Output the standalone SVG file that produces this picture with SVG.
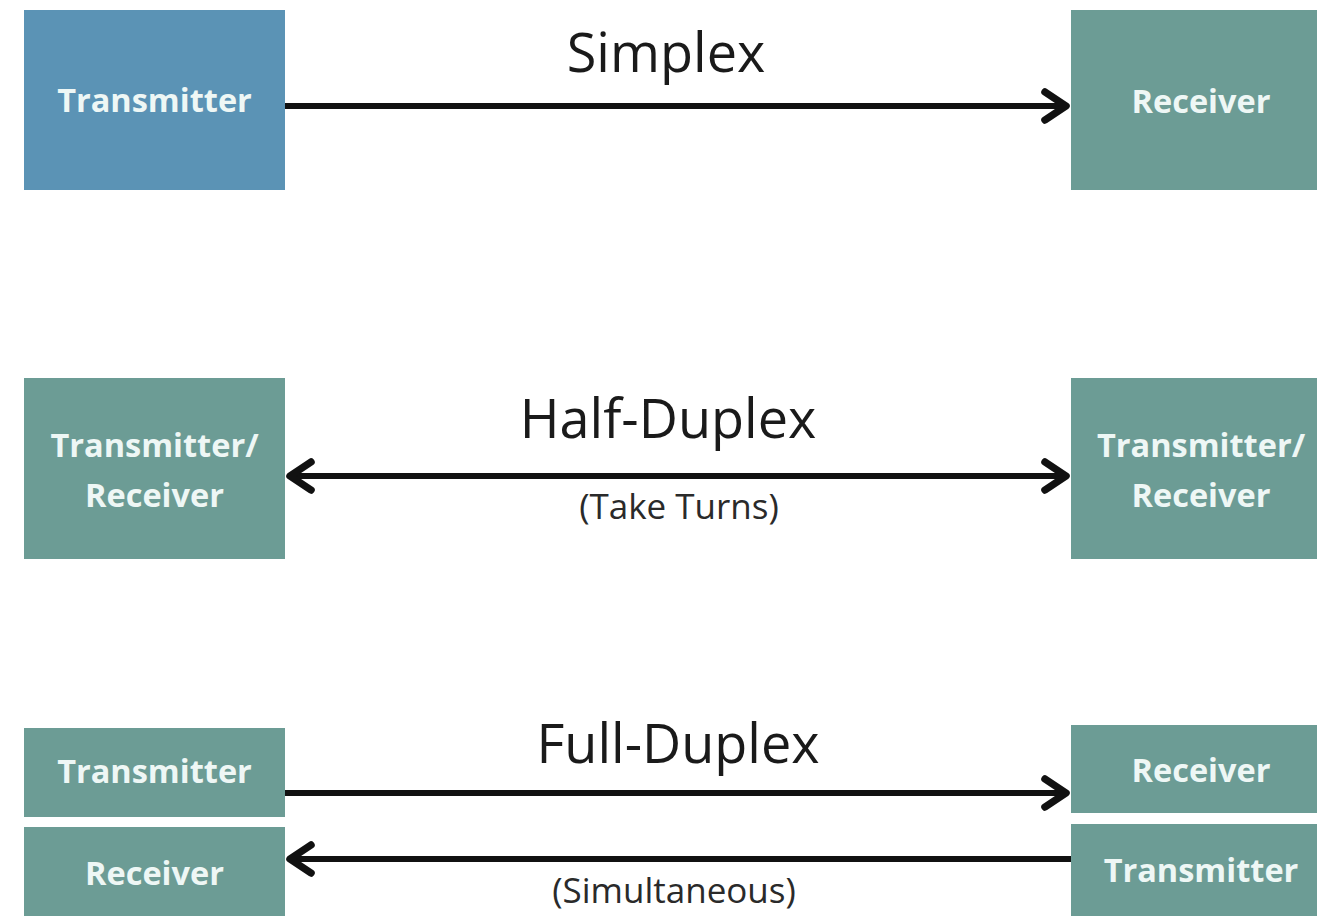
<svg xmlns="http://www.w3.org/2000/svg" width="1317" height="916" viewBox="0 0 1317 916">
  <style>
    .box-blue { fill: #5b93b5; }
    .box-teal { fill: #6c9c95; }
    .label { font-family: "Open Sans", "Noto Sans", "Liberation Sans", sans-serif; font-weight: 700; font-size: 32.5px; fill: #eef7f5; text-anchor: middle; }
    .title { font-family: "Open Sans", "Noto Sans", "Liberation Sans", sans-serif; font-weight: 400; font-size: 54px; fill: #1a1a1a; text-anchor: middle; }
    .note { font-family: "Open Sans", "Noto Sans", "Liberation Sans", sans-serif; font-weight: 400; font-size: 35px; fill: #2a2a2a; text-anchor: middle; }
    .wire { fill: none; stroke: #111; stroke-width: 6; }
  </style>
  <defs>
    <marker id="chev" markerUnits="userSpaceOnUse" markerWidth="40" markerHeight="40" viewBox="-30 -20 40 40" refX="0" refY="0" orient="auto-start-reverse" overflow="visible">
      <path d="M-23,-14 L-2,0 L-23,14" fill="none" stroke="#111" stroke-width="7.5" stroke-linecap="round" stroke-linejoin="round"/>
    </marker>
  </defs>

  <rect width="1317" height="916" fill="#ffffff"/>

  <!-- Simplex -->
  <g id="simplex-tx">
    <rect class="box-blue" x="24" y="10" width="261" height="180"/>
    <text class="label" x="154.5" y="112">Transmitter</text>
  </g>
  <g id="simplex-rx">
    <rect class="box-teal" x="1071" y="10" width="261" height="180"/>
    <text class="label" x="1201" y="113">Receiver</text>
  </g>
  <text class="title" x="666" y="72">Simplex</text>

  <!-- Half-Duplex -->
  <g id="half-left">
    <rect class="box-teal" x="24" y="378" width="261" height="181"/>
    <text class="label" x="154.5" y="457">Transmitter/</text>
    <text class="label" x="154.5" y="507">Receiver</text>
  </g>
  <g id="half-right">
    <rect class="box-teal" x="1071" y="378" width="261" height="181"/>
    <text class="label" x="1201" y="457">Transmitter/</text>
    <text class="label" x="1201" y="507">Receiver</text>
  </g>
  <text class="title" x="668" y="438">Half-Duplex</text>
  <text class="note" x="679" y="519">(Take Turns)</text>

  <!-- Full-Duplex -->
  <g id="full-left-tx">
    <rect class="box-teal" x="24" y="728" width="261" height="89"/>
    <text class="label" x="154.5" y="783">Transmitter</text>
  </g>
  <g id="full-left-rx">
    <rect class="box-teal" x="24" y="827" width="261" height="89"/>
    <text class="label" x="154.5" y="885">Receiver</text>
  </g>
  <g id="full-right-rx">
    <rect class="box-teal" x="1071" y="725" width="261" height="88"/>
    <text class="label" x="1201" y="782">Receiver</text>
  </g>
  <g id="full-right-tx">
    <rect class="box-teal" x="1071" y="824" width="261" height="92"/>
    <text class="label" x="1201" y="882">Transmitter</text>
  </g>
  <text class="title" x="678" y="763">Full-Duplex</text>
  <text class="note" x="674" y="903">(Simultaneous)</text>

  <!-- Connectors -->
  <g id="connectors">
    <path class="wire" d="M285,106 L1068,106" marker-end="url(#chev)"/>
    <path class="wire" d="M288,476 L1068,476" marker-start="url(#chev)" marker-end="url(#chev)"/>
    <path class="wire" d="M285,793 L1068,793" marker-end="url(#chev)"/>
    <path class="wire" d="M1071,859 L288,859" marker-end="url(#chev)"/>
  </g>
</svg>
